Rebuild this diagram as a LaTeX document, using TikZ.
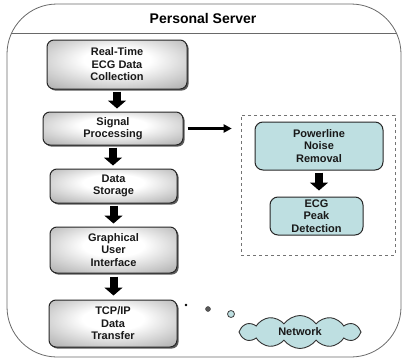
\documentclass[tikz,border=0pt]{standalone}
\usepackage{fontspec}
\setmainfont{Liberation Sans}
\usetikzlibrary{arrows.meta,shadows,shapes.symbols}

% soft grey glow used for the stage boxes: white middle, darker rim
\pgfdeclareradialshading{grayglow}{\pgfpoint{0bp}{6bp}}{%
  color(0bp)=(white); color(12bp)=(white);
  color(50bp)=(black!48); color(75bp)=(black!62)}

\definecolor{paleteal}{RGB}{190,223,225}
\definecolor{rimgray}{RGB}{105,105,105}

\tikzset{
  stage/.style={draw=black!85, line width=1pt, rounded corners=7pt,
    shading=grayglow, align=center, inner sep=0pt,
    font=\fontsize{11}{12.5}\selectfont\bfseries, text=black!90,
    drop shadow={shadow xshift=1.6pt, shadow yshift=-1.6pt, fill=black!75, opacity=.85}},
  dspstage/.style={draw=black!85, line width=1pt, rounded corners=8pt,
    fill=paleteal, align=center, inner sep=0pt,
    font=\fontsize{11}{12.5}\selectfont\bfseries, text=black!90},
  blockarrow/.style={line width=8pt, black, -{Triangle[width=18pt,length=8pt]}},
  thinarrow/.style={line width=2.2pt, black, -{Triangle[width=8pt,length=8pt]}},
}

\begin{document}
\begin{tikzpicture}[x=1pt,y=-1pt]
\useasboundingbox (0,0) rectangle (402,362);

% server enclosure with its title band
\draw[rimgray, line width=0.8pt, rounded corners=50pt] (7,4) rectangle (401,357);
\begin{scope}
  \clip[rounded corners=50pt] (7,4) rectangle (401,357);
  \draw[rimgray, line width=0.8pt] (0,33) -- (402,33);
\end{scope}
\node[font=\fontsize{14}{16}\selectfont\bfseries] (title) at (203,18) {Personal Server};

% main processing chain
\node[stage, minimum width=140pt, minimum height=49pt] (collect) at (117,64.5)
  {Real-Time\\ECG Data\\Collection};
\node[stage, minimum width=140pt, minimum height=33pt] (signal) at (113,128.5)
  {Signal\\Processing};
\node[stage, minimum width=127pt, minimum height=34pt] (storage) at (113.5,186)
  {Data\\Storage};
\node[stage, minimum width=127pt, minimum height=46pt] (gui) at (113.5,250)
  {Graphical\\User\\Interface};
\node[stage, minimum width=128pt, minimum height=47pt] (tcp) at (113,323.5)
  {TCP/IP\\Data\\Transfer};

\draw[blockarrow, shorten <=2pt, shorten >=3pt] (collect.south) -- (collect.south |- signal.north);
\draw[blockarrow, shorten <=2pt, shorten >=3pt] (signal.south) -- (signal.south |- storage.north);
\draw[blockarrow, shorten <=2pt, shorten >=3pt] (storage.south) -- (storage.south |- gui.north);
\draw[blockarrow, shorten <=3pt, shorten >=4pt] (gui.south) -- (gui.south |- tcp.north);

% signal processing detail
\node[draw=black!55, dashed, line width=0.6pt, minimum width=154pt, minimum height=140pt,
  inner sep=0pt] (detail) at (318,185) {};
\node[dspstage, minimum width=128pt, minimum height=48pt] (powerline) at (319,146)
  {Powerline\\Noise\\Removal};
\node[dspstage, minimum width=93pt, minimum height=38pt] (peak) at (316.5,216)
  {ECG\\Peak\\Detection};

\draw[thinarrow, shorten <=4pt, shorten >=9pt] (signal.east) -- (signal.east -| detail.west);
\draw[blockarrow, shorten <=2pt, shorten >=6pt] (powerline.south) -- (powerline.south |- peak.north);

% link out to the network
\node[circle, fill=black, inner sep=0pt, minimum size=2.6pt] (dotA) at (186,305) {};
\node[circle, fill=black!65, draw=black!75, inner sep=0pt, minimum size=5pt] (dotB) at (208,309) {};
\node[circle, fill=paleteal, draw=black!75, line width=0.8pt, inner sep=0pt, minimum size=7pt] (dotC) at (231,314) {};
\node[cloud, cloud puffs=12, cloud puff arc=110, cloud ignores aspect,
  draw=black!80, line width=0.9pt, fill=paleteal, minimum width=122pt, minimum height=33pt,
  inner sep=0pt, font=\fontsize{11}{12.5}\selectfont\bfseries, text=black!90] (net) at (300,332)
  {Network};
\end{tikzpicture}
\end{document}
